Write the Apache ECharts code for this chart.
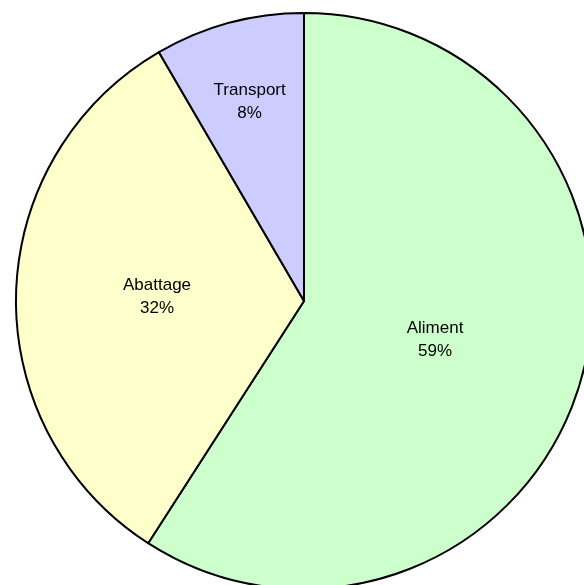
<!DOCTYPE html>
<html>
<head>
<meta charset="utf-8">
<script src="https://cdn.jsdelivr.net/npm/echarts@6/dist/echarts.min.js"></script>
<style>html,body{margin:0;padding:0;background:#fff}#c{width:584px;height:585px}</style>
</head>
<body>
<div id="c"></div>
<script>
const categories = ['Aliment', 'Abattage', 'Transport'];
const values = [59.1, 32.5, 8.4];
const labelsPct = ['59%', '32%', '8%'];
const colors = ['#CCFFCC', '#FFFFCC', '#CCCCFF'];

const chart = echarts.init(document.getElementById('c'), null, {renderer: 'canvas'});
const labelOffsets = {Aliment: [-10, -3], Abattage: [0, -1], Transport: [-16, -57]};
const data = categories.map((c, i) => ({
  name: c, value: values[i], itemStyle: {color: colors[i]},
  label: {offset: labelOffsets[c]}
}));
chart.setOption({
  animation: false,
  series: [{
    type: 'pie',
    center: [304, 301],
    radius: 288,
    startAngle: 90,
    clockwise: true,
    data: data,
    itemStyle: {borderColor: '#000', borderWidth: 2},
    label: {
      position: 'inner',
      formatter: p => p.name + '\n' + labelsPct[p.dataIndex],
      fontFamily: 'Liberation Sans, Arial, sans-serif',
      fontSize: 17,
      lineHeight: 23,
      color: '#000'
    },
    labelLine: {show: false},
    emphasis: {disabled: true}
  }]
});
</script>
</body>
</html>
